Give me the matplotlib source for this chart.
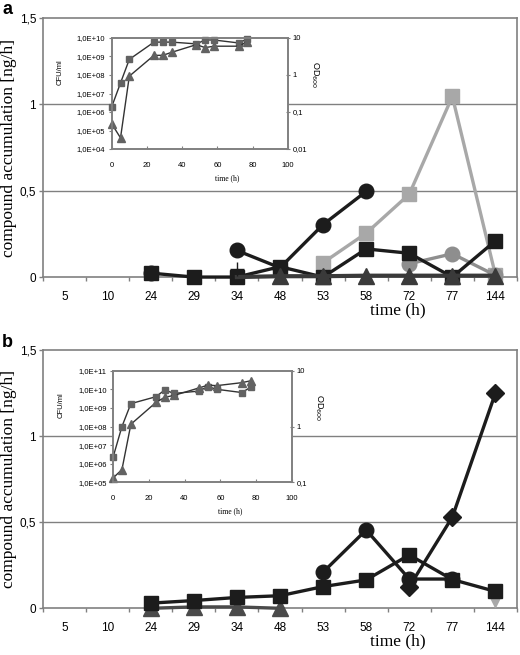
import numpy as np
import matplotlib
matplotlib.use("Agg")
import matplotlib.pyplot as plt

nan = np.nan

# main panels: sampling times (categorical axis)
times = ["5", "10", "24", "29", "34", "48", "53", "58", "72", "77", "144"]
y_ticks = [0, 0.5, 1, 1.5]
y_ticklabels = ["0", "0,5", "1", "1,5"]

# panel a
a_black_circle = [nan, nan, 0.023, nan, 0.154, 0.054, 0.304, 0.496, nan, nan, nan]
a_black_square = [nan, nan, 0.023, 0.0, 0.0, 0.06, 0.0, 0.163, 0.138, 0.0, 0.21]
a_black_triangle = [nan, nan, nan, nan, 0.0, 0.005, 0.005, 0.008, 0.008, 0.008, 0.008]
a_gray_square = [nan, nan, nan, nan, nan, nan, 0.083, 0.254, 0.48, 1.046, 0.012]
a_gray_circle = [nan, nan, nan, nan, nan, nan, nan, nan, 0.077, 0.135, 0.01]
a_cross = [nan, nan, nan, nan, 0.045, nan, nan, nan, nan, nan, nan]

# panel b
b_black_square = [nan, nan, 0.03, 0.045, 0.063, 0.073, 0.126, 0.165, 0.31, 0.167, 0.098]
b_black_circle = [nan, nan, nan, nan, nan, nan, 0.21, 0.455, 0.17, 0.17, nan]
b_black_diamond = [nan, nan, nan, nan, nan, nan, nan, nan, 0.125, 0.53, 1.25]
b_black_triangle = [nan, nan, 0.0, 0.008, 0.008, 0.0, nan, nan, nan, nan, nan]
b_gray_tri_down = [nan, nan, nan, nan, nan, nan, nan, nan, nan, nan, 0.045]

# insets: growth curves
inset_t = [0, 5, 10, 24, 29, 34, 48, 53, 58, 72, 77]
a_cfu = [1.9e6, 3.7e7, 7e8, 6e9, 6e9, 6e9, 4.8e9, 7.8e9, 7.8e9, 5.4e9, 9e9]
a_od = [0.048, 0.02, 0.93, 3.4, 3.4, 4.1, 6.6, 5.5, 6.0, 6.0, 8.0]
b_cfu = [2.2e6, 1e8, 1.7e9, 4e9, 9.3e9, 6e9, 8e9, 1.4e10, 1e10, 6.7e9, 1.3e10]
b_od = [0.12, 0.17, 1.1, 2.7, 3.35, 3.6, 4.9, 5.5, 5.4, 6.1, 6.6]

a_cfu_ticks = [1e4, 1e5, 1e6, 1e7, 1e8, 1e9, 1e10]
a_cfu_labels = ["1,0E+04", "1,0E+05", "1,0E+06", "1,0E+07", "1,0E+08", "1,0E+09", "1,0E+10"]
a_od_ticks = [0.01, 0.1, 1, 10]
a_od_labels = ["0,01", "0,1", "1", "10"]
b_cfu_ticks = [1e5, 1e6, 1e7, 1e8, 1e9, 1e10, 1e11]
b_cfu_labels = ["1,0E+05", "1,0E+06", "1,0E+07", "1,0E+08", "1,0E+09", "1,0E+10", "1,0E+11"]
b_od_ticks = [0.1, 1, 10]
b_od_labels = ["0,1", "1", "10"]

BLACK = "#1c1c1c"
LGRAY = "#a8a8a8"
MGRAY = "#8e8e8e"
FRAME = "#808080"
SERIF = "Liberation Serif"
SANS = "Liberation Sans"

plt.rcParams["font.family"] = SANS

fig = plt.figure(figsize=(5.2, 6.55), dpi=100)


def setup_main(ax, letter):
    x = np.arange(len(times))
    ax.set_xlim(-0.5, len(times) - 0.5)
    ax.set_ylim(0, 1.5)
    for s in ax.spines.values():
        s.set_color(FRAME)
        s.set_linewidth(1.2)
    ax.set_yticks(y_ticks)
    ax.set_yticklabels(y_ticklabels, fontsize=8.5)
    ax.tick_params(axis="y", length=3, width=1, color=FRAME, pad=2)
    ax.set_xticks(np.arange(len(times) + 1) - 0.5)
    ax.set_xticklabels([])
    ax.set_xticks(x, minor=True)
    ax.set_xticklabels(times, minor=True, fontsize=8.5)
    ax.tick_params(axis="x", which="major", length=3, width=1, color=FRAME)
    ax.tick_params(axis="x", which="minor", length=0, pad=10)
    for g in [0.5, 1.0]:
        ax.axhline(g, color=FRAME, lw=1, zorder=0)
    ax.text(-0.072, 0.5, "compound accumulation [ng/h]", rotation=90,
            ha="center", va="center", transform=ax.transAxes,
            family=SERIF, fontsize=12.5)
    ax.text(0.749, -0.13, "time (h)", ha="center", va="center",
            transform=ax.transAxes, family=SERIF, fontsize=12.5)
    fig.text(0.004, 0.998 if letter == "a" else 0.49, letter, fontsize=13,
             fontweight="bold", ha="left", va="top")


def series(ax, y, color, marker, ms, zorder, lw=2.4, markevery=None):
    x = np.arange(len(times))
    ax.plot(x, y, color=color, lw=lw, marker=marker, ms=ms, mfc=color,
            mec=color, zorder=zorder, clip_on=False, markevery=markevery)


def setup_inset(ax, cfu, od, cfu_ticks, cfu_labels, od_ticks, od_labels):
    ax.set_facecolor("white")
    ax.plot(inset_t, cfu, color="#333333", lw=1, marker="s", ms=5,
            mfc="#626262", mec="#626262", clip_on=False)
    ax.set_yscale("log")
    ax.set_ylim(cfu_ticks[0], cfu_ticks[-1])
    ax.set_xlim(0, 100)
    ax.set_yticks(cfu_ticks)
    ax.set_yticklabels(cfu_labels, fontsize=5.5)
    ax.yaxis.set_minor_locator(plt.NullLocator())
    ax.set_xticks([0, 20, 40, 60, 80, 100])
    ax.set_xticklabels(["0", "20", "40", "60", "80", "100"], fontsize=5.5)
    ax.tick_params(axis="y", length=2.5, width=0.8, color=FRAME, pad=2)
    ax.tick_params(axis="x", length=2, width=0.8, color=FRAME, direction="in", pad=9)
    for s in ax.spines.values():
        s.set_color(FRAME)
        s.set_linewidth(1.2)
    ax2 = ax.twinx()
    ax2.plot(inset_t, od, color="#333333", lw=1, marker="^", ms=6,
             mfc="#626262", mec="#626262", clip_on=False)
    ax2.set_yscale("log")
    ax2.set_ylim(od_ticks[0], od_ticks[-1])
    ax2.set_yticks(od_ticks)
    ax2.set_yticklabels(od_labels, fontsize=5.5)
    ax2.yaxis.set_minor_locator(plt.NullLocator())
    ax2.tick_params(axis="y", length=2.5, width=0.8, color=FRAME, direction="inout", pad=2)
    for s in ax2.spines.values():
        s.set_color(FRAME)
        s.set_linewidth(1.2)
    ax.text(-0.29, 0.69, "CFU/ml", rotation=90, ha="center", va="center",
            transform=ax.transAxes, fontsize=5.5)
    ax.text(1.15, 0.67, "OD$_{600}$", rotation=270, ha="center", va="center",
            transform=ax.transAxes, fontsize=6.5)
    ax.text(0.654, -0.26, "time (h)", ha="center", va="center",
            transform=ax.transAxes, family=SERIF, fontsize=5.5)


# ---- panel a ----
axa = fig.add_axes([0.0827, 0.577, 0.9115, 0.3954])
setup_main(axa, "a")
series(axa, a_gray_square, LGRAY, "s", 9.5, 3)
series(axa, a_gray_circle, MGRAY, "o", 10.5, 3)
series(axa, a_black_circle, BLACK, "o", 10.5, 4)
series(axa, a_black_square, BLACK, "s", 9.5, 5)
series(axa, a_black_triangle, "#3a3a3a", "^", 11, 6, lw=3,
       markevery=[5, 6, 7, 8, 9, 10])
series(axa, a_cross, BLACK, "+", 10, 7)

ina = fig.add_axes([0.2148, 0.7725, 0.339, 0.1695], zorder=10)
setup_inset(ina, a_cfu, a_od, a_cfu_ticks, a_cfu_labels, a_od_ticks, a_od_labels)

# ---- panel b ----
axb = fig.add_axes([0.0827, 0.0713, 0.9115, 0.3943])
setup_main(axb, "b")
series(axb, b_gray_tri_down, LGRAY, "v", 8, 3)
series(axb, b_black_triangle, "#4a4a4a", "^", 11, 3)
series(axb, b_black_circle, BLACK, "o", 10.5, 4)
series(axb, b_black_diamond, BLACK, "D", 9, 5)
series(axb, b_black_square, BLACK, "s", 9.5, 6)

inb = fig.add_axes([0.2173, 0.2634, 0.344, 0.1707], zorder=10)
setup_inset(inb, b_cfu, b_od, b_cfu_ticks, b_cfu_labels, b_od_ticks, b_od_labels)

fig.savefig("out.png", dpi=100)
